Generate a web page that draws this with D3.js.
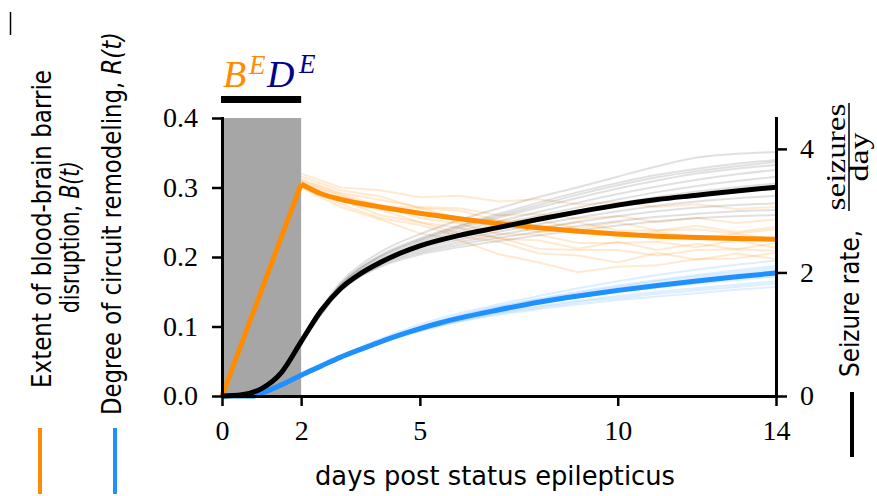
<!DOCTYPE html>
<html>
<head>
<meta charset="utf-8">
<script src="https://cdn.jsdelivr.net/npm/d3@7"></script>
<style>
  body { margin: 0; background: #fff; }
  svg { display: block; }
  .axis text { font-family: "Liberation Serif", serif; font-size: 28px; fill: #000; }
  .axis path { stroke: #000; stroke-width: 3; }
  .axis line { stroke: #000; stroke-width: 2.5; }
  .lab { font-family: "DejaVu Sans", sans-serif; font-size: 26px; fill: #000; }
</style>
</head>
<body>
<div id="chart"></div>
<script>
// ---- data ----
const epoch = [0, 2]   // status epilepticus window (days)

// blood-brain barrier disruption B(t), mean
const barrierDays = [0, 2, 2.5, 3, 3.5, 4, 5, 6, 7, 8, 9, 10, 11, 12, 13, 14]
const barrierMean = [0, 0.305, 0.291, 0.283, 0.277, 0.272, 0.263, 0.255, 0.248, 0.242, 0.237, 0.233, 0.230, 0.228, 0.2265, 0.2255]

// circuit remodeling R(t), mean
const remodelDays = [0, 0.5, 0.8, 1, 1.5, 2, 2.5, 3, 3.5, 4, 4.5, 5, 5.5, 6, 7, 8, 9, 10, 11, 12, 13, 14]
const remodelMean = [0, 0, 0, 0.004, 0.016, 0.030, 0.043, 0.056, 0.067, 0.078, 0.088, 0.097, 0.105, 0.112, 0.124, 0.135, 0.144, 0.152, 0.159, 0.1655, 0.1715, 0.177]

// seizure rate (seizures/day), mean
const seizureDays = [0, 0.5, 1, 1.5, 2, 2.5, 3, 3.5, 4, 4.5, 5, 6, 7, 8, 9, 10, 11, 12, 13, 14]
const seizureMean = [0, 0.02, 0.12, 0.38, 0.88, 1.38, 1.74, 1.98, 2.16, 2.31, 2.43, 2.60, 2.73, 2.86, 2.98, 3.09, 3.18, 3.25, 3.32, 3.38]

// individual simulated runs
const barrierRunDays = [2, 3, 4, 5, 6, 7, 8, 9, 10, 11, 12, 13, 14]
const barrierRuns = [
  [0.320, 0.300, 0.296, 0.286, 0.288, 0.280, 0.283, 0.276, 0.279, 0.272, 0.276, 0.269, 0.272],
  [0.312, 0.292, 0.282, 0.272, 0.270, 0.260, 0.262, 0.255, 0.259, 0.250, 0.256, 0.249, 0.254],
  [0.308, 0.288, 0.270, 0.264, 0.250, 0.246, 0.236, 0.240, 0.230, 0.236, 0.228, 0.233, 0.226],
  [0.305, 0.280, 0.268, 0.250, 0.242, 0.226, 0.224, 0.212, 0.222, 0.210, 0.219, 0.211, 0.220],
  [0.302, 0.276, 0.256, 0.246, 0.230, 0.222, 0.205, 0.202, 0.192, 0.206, 0.196, 0.205, 0.197],
  [0.300, 0.272, 0.254, 0.234, 0.224, 0.204, 0.192, 0.178, 0.186, 0.188, 0.197, 0.198, 0.206],
  [0.316, 0.296, 0.287, 0.270, 0.267, 0.252, 0.253, 0.241, 0.250, 0.238, 0.245, 0.236, 0.243],
  [0.310, 0.290, 0.274, 0.270, 0.256, 0.252, 0.240, 0.250, 0.238, 0.238, 0.240, 0.234, 0.240],
  [0.306, 0.285, 0.274, 0.256, 0.248, 0.233, 0.232, 0.220, 0.220, 0.222, 0.214, 0.224, 0.213],
  [0.303, 0.282, 0.260, 0.250, 0.234, 0.228, 0.212, 0.210, 0.210, 0.202, 0.210, 0.211, 0.209]
]

const runDays = [2, 3, 4, 5, 6, 7, 8, 9, 10, 11, 12, 13, 14]
const seizureRuns = [
  [0.93, 1.84, 2.33, 2.62, 2.85, 3.04, 3.22, 3.38, 3.55, 3.72, 3.86, 3.92, 3.95],
  [0.91, 1.81, 2.28, 2.55, 2.76, 2.95, 3.13, 3.30, 3.45, 3.58, 3.68, 3.76, 3.82],
  [0.90, 1.79, 2.25, 2.51, 2.71, 2.89, 3.05, 3.21, 3.36, 3.49, 3.60, 3.68, 3.74],
  [0.89, 1.77, 2.22, 2.48, 2.67, 2.83, 2.98, 3.13, 3.27, 3.39, 3.50, 3.59, 3.66],
  [0.88, 1.76, 2.20, 2.45, 2.63, 2.78, 2.92, 3.05, 3.18, 3.30, 3.40, 3.48, 3.55],
  [0.87, 1.74, 2.17, 2.41, 2.57, 2.71, 2.84, 2.96, 3.07, 3.17, 3.25, 3.31, 3.35],
  [0.87, 1.73, 2.15, 2.38, 2.53, 2.66, 2.78, 2.89, 2.99, 3.08, 3.15, 3.20, 3.24],
  [0.86, 1.72, 2.13, 2.35, 2.49, 2.61, 2.72, 2.82, 2.91, 2.99, 3.05, 3.09, 3.12],
  [0.85, 1.71, 2.11, 2.32, 2.45, 2.56, 2.66, 2.75, 2.83, 2.90, 2.95, 2.99, 3.01],
  [0.85, 1.70, 2.09, 2.29, 2.41, 2.51, 2.60, 2.68, 2.76, 2.83, 2.88, 2.91, 2.93],
  [0.90, 1.80, 2.26, 2.53, 2.74, 2.92, 3.09, 3.26, 3.41, 3.54, 3.64, 3.72, 3.79],
  [0.88, 1.75, 2.19, 2.44, 2.60, 2.74, 2.88, 3.00, 3.12, 3.22, 3.31, 3.38, 3.44]
]
const remodelRuns = [
  [0.031, 0.058, 0.082, 0.103, 0.119, 0.132, 0.144, 0.155, 0.165, 0.174, 0.182, 0.189, 0.195],
  [0.030, 0.057, 0.080, 0.100, 0.116, 0.129, 0.140, 0.150, 0.159, 0.167, 0.174, 0.181, 0.187],
  [0.030, 0.056, 0.079, 0.098, 0.114, 0.126, 0.137, 0.146, 0.155, 0.162, 0.169, 0.175, 0.181],
  [0.030, 0.056, 0.078, 0.097, 0.111, 0.123, 0.133, 0.142, 0.149, 0.156, 0.162, 0.167, 0.172],
  [0.029, 0.055, 0.077, 0.095, 0.109, 0.120, 0.129, 0.137, 0.144, 0.150, 0.155, 0.160, 0.165],
  [0.029, 0.054, 0.076, 0.093, 0.107, 0.117, 0.125, 0.132, 0.138, 0.143, 0.148, 0.153, 0.157],
  [0.030, 0.057, 0.079, 0.099, 0.115, 0.128, 0.139, 0.148, 0.157, 0.165, 0.172, 0.178, 0.184],
  [0.029, 0.055, 0.077, 0.094, 0.108, 0.119, 0.127, 0.135, 0.141, 0.147, 0.152, 0.157, 0.162]
]

const xTicks = [0, 2, 5, 10, 14]
const leftTicks = [0, 0.1, 0.2, 0.3, 0.4]
const rightTicks = [0, 2, 4]

const orange = "#ff8c00", blue = "#1e90ff", navy = "#00008b"

// ---- layout ----
const width = 877, height = 496

const svg = d3.select("#chart").append("svg")
    .attr("width", width)
    .attr("height", height)

svg.append("rect").attr("width", width).attr("height", height).attr("fill", "#fff")

const x = d3.scaleLinear().domain([0, 14]).range([222, 776])
const y = d3.scaleLinear().domain([0, 0.4]).range([396, 118])
const yR = d3.scaleLinear().domain([0, 4.5]).range([396, 118])

// shaded SE window and bar above it
svg.append("rect")
    .attr("x", x(epoch[0]))
    .attr("y", y(0.4))
    .attr("width", x(epoch[1]) - x(epoch[0]))
    .attr("height", y(0) - y(0.4))
    .attr("fill", "#a6a6a6")

svg.append("line")
    .attr("x1", x(epoch[0]) - 1).attr("x2", x(epoch[1]))
    .attr("y1", 99.5).attr("y2", 99.5)
    .attr("stroke", "#000").attr("stroke-width", 7)

const title = svg.append("text")
    .attr("font-family", "Liberation Serif, serif")
    .attr("font-style", "italic")
    .attr("y", 87)
title.append("tspan").attr("x", 223).attr("font-size", 38).attr("fill", orange).text("B")
title.append("tspan").attr("x", 249).attr("dy", -13).attr("font-size", 27).attr("fill", orange).text("E")
title.append("tspan").attr("x", 267).attr("dy", 13).attr("font-size", 38).attr("fill", navy).text("D")
title.append("tspan").attr("x", 299).attr("dy", -14).attr("font-size", 27).attr("fill", navy).text("E")

// line generators
const lineL = (days) => d3.line().x((d, i) => x(days[i])).y(d => y(d))
const lineR = (days) => d3.line().x((d, i) => x(days[i])).y(d => yR(d))

// individual runs
svg.append("g").selectAll("path")
    .data(barrierRuns).join("path")
    .attr("d", lineL(barrierRunDays))
    .attr("fill", "none").attr("stroke", orange)
    .attr("stroke-width", 2).attr("stroke-opacity", 0.18)

svg.append("g").selectAll("path")
    .data(remodelRuns).join("path")
    .attr("d", lineL(runDays).curve(d3.curveMonotoneX))
    .attr("fill", "none").attr("stroke", blue)
    .attr("stroke-width", 2).attr("stroke-opacity", 0.15)

svg.append("g").selectAll("path")
    .data(seizureRuns).join("path")
    .attr("d", lineR(runDays).curve(d3.curveMonotoneX))
    .attr("fill", "none").attr("stroke", "#000")
    .attr("stroke-width", 2).attr("stroke-opacity", 0.12)

// means
const peak = barrierMean.indexOf(d3.max(barrierMean))
svg.append("path")
    .attr("d", lineL(barrierDays.slice(0, peak + 1))(barrierMean.slice(0, peak + 1)))
    .attr("fill", "none").attr("stroke", orange).attr("stroke-width", 5)
svg.append("path")
    .attr("d", lineL(barrierDays.slice(peak)).curve(d3.curveMonotoneX)(barrierMean.slice(peak)))
    .attr("fill", "none").attr("stroke", orange).attr("stroke-width", 5)

svg.append("path")
    .attr("d", lineL(remodelDays).curve(d3.curveMonotoneX)(remodelMean))
    .attr("fill", "none").attr("stroke", blue).attr("stroke-width", 5)

svg.append("path")
    .attr("d", lineR(seizureDays).curve(d3.curveMonotoneX)(seizureMean))
    .attr("fill", "none").attr("stroke", "#000").attr("stroke-width", 5)

// axes
svg.append("g").attr("class", "axis")
    .attr("transform", "translate(222,0)")
    .call(d3.axisLeft(y).tickValues(leftTicks).tickFormat(d3.format(".1f"))
        .tickSize(10).tickSizeOuter(0).tickPadding(14))

svg.append("g").attr("class", "axis")
    .attr("transform", "translate(0,396)")
    .call(d3.axisBottom(x).tickValues(xTicks).tickFormat(d3.format("d"))
        .tickSize(10).tickSizeOuter(0).tickPadding(14))

svg.append("g").attr("class", "axis")
    .attr("transform", "translate(776,0)")
    .call(d3.axisRight(yR).tickValues(rightTicks).tickFormat(d3.format("d"))
        .tickSize(11).tickSizeOuter(0).tickPadding(13))

svg.selectAll(".axis .domain").attr("stroke-linecap", "square")

// labels
svg.append("text").attr("class", "lab")
    .attr("x", 315).attr("y", 485)
    .attr("font-size", 28)
    .attr("textLength", 360).attr("lengthAdjust", "spacingAndGlyphs")
    .text("days post status epilepticus")

svg.append("text").attr("class", "lab")
    .attr("transform", "translate(51,388) rotate(-90)")
    .attr("textLength", 318).attr("lengthAdjust", "spacingAndGlyphs")
    .text("Extent of blood-brain barrie")

const l2 = svg.append("text").attr("class", "lab")
    .attr("font-size", 25)
    .attr("transform", "translate(79,313) rotate(-90)")
    .attr("textLength", 152).attr("lengthAdjust", "spacingAndGlyphs")
l2.append("tspan").text("disruption, ")
l2.append("tspan").attr("font-style", "italic").text("B(t)")

const l3 = svg.append("text").attr("class", "lab")
    .attr("transform", "translate(121,415) rotate(-90)")
    .attr("textLength", 383).attr("lengthAdjust", "spacingAndGlyphs")
l3.append("tspan").text("Degree of circuit remodeling, ")
l3.append("tspan").attr("font-style", "italic").text("R(t)")

svg.append("text").attr("class", "lab")
    .attr("transform", "translate(859,377) rotate(-90)")
    .attr("textLength", 147).attr("lengthAdjust", "spacingAndGlyphs")
    .text("Seizure rate,")

svg.append("text")
    .attr("font-family", "Liberation Serif, serif").attr("font-size", 28)
    .attr("text-anchor", "middle")
    .attr("transform", "translate(845,157) rotate(-90)")
    .attr("textLength", 107).attr("lengthAdjust", "spacingAndGlyphs")
    .text("seizures")
svg.append("line")
    .attr("x1", 849).attr("x2", 849).attr("y1", 103).attr("y2", 211)
    .attr("stroke", "#000").attr("stroke-width", 1.5)
svg.append("text")
    .attr("font-family", "Liberation Serif, serif").attr("font-size", 28)
    .attr("text-anchor", "middle")
    .attr("transform", "translate(868,157) rotate(-90)")
    .attr("textLength", 49).attr("lengthAdjust", "spacingAndGlyphs")
    .text("day")

// colour keys under the labels
const keys = [
  {x: 40, y1: 428, y2: 494, c: orange},
  {x: 115, y1: 428, y2: 494, c: blue},
  {x: 852, y1: 392, y2: 457, c: "#000"}
]
svg.append("g").selectAll("line").data(keys).join("line")
    .attr("x1", d => d.x).attr("x2", d => d.x)
    .attr("y1", d => d.y1).attr("y2", d => d.y2)
    .attr("stroke", d => d.c).attr("stroke-width", 4)

// stray panel mark top-left
svg.append("line")
    .attr("x1", 10.5).attr("x2", 10.5).attr("y1", 12).attr("y2", 35)
    .attr("stroke", "#000").attr("stroke-width", 1.5)
</script>
</body>
</html>
